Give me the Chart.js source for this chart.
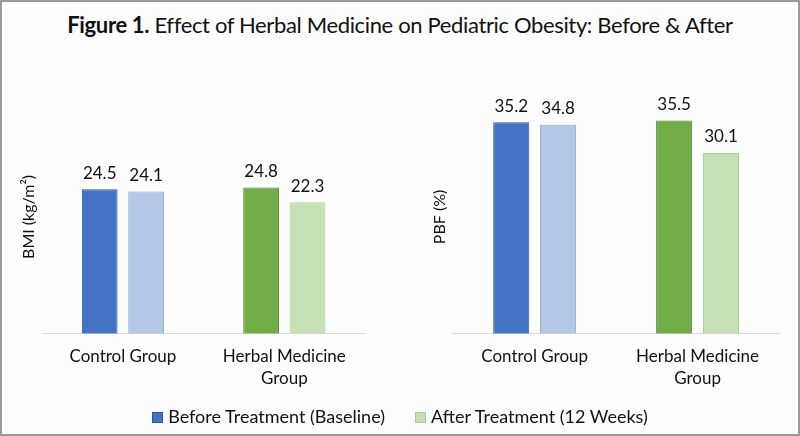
<!DOCTYPE html>
<html>
<head>
<meta charset="utf-8">
<script src="https://cdn.jsdelivr.net/npm/chart.js@4/dist/chart.umd.min.js"></script>
<style>
  html, body { margin: 0; padding: 0; background: #fff; }
  #frame { position: relative; width: 800px; height: 436px; box-sizing: border-box; border: 2px solid #9a9a9a; background: #fdfdfd; overflow: hidden; font-family: Lato, "Open Sans", sans-serif; }
  #title { position: absolute; left: 0; width: 796px; top: 9px; text-align: center; font-size: 22px; letter-spacing: -0.35px; color: #111; white-space: nowrap; }
  #title b { font-weight: 700; }
  .panel { position: absolute; top: -2px; width: 400px; height: 436px; }
  #legend { position: absolute; top: 403px; left: 0; width: 796px; text-align: center; font-size: 18px; color: #111; white-space: nowrap; }
  .item { display: inline-block; margin: 0 15px; }
  .sw { display: inline-block; width: 11px; height: 11px; margin-right: 5px; vertical-align: 0px; box-sizing: border-box; border: 1px solid; }
</style>
</head>
<body>
<div id="frame">
  <div id="title"><b>Figure 1.</b> Effect of Herbal Medicine on Pediatric Obesity: Before &amp; After</div>
  <div class="panel" style="left:-2px"><canvas id="c1"></canvas></div>
  <div class="panel" style="left:398px"><canvas id="c2"></canvas></div>
  <div id="legend"></div>
</div>
<script>
const categories = [["Control Group"], ["Herbal Medicine", "Group"]];
const seriesNames = ["Before Treatment (Baseline)", "After Treatment (12 Weeks)"];
const bmiBefore = [24.5, 24.8];
const bmiAfter = [24.1, 22.3];
const pbfBefore = [35.2, 35.5];
const pbfAfter = [34.8, 30.1];
const bmiTitle = "BMI (kg/m\u00B2)";
const pbfTitle = "PBF (%)";

const beforeFill = ["#4472c4", "#70ad47"];
const beforeBorder = ["#2f5597", "#548235"];
const afterFill = ["#b4c7e7", "#c5e0b4"];
const afterBorder = ["#8faadc", "#a9d18e"];

const FONT = "Lato, 'Open Sans', sans-serif";

const valueLabels = {
  id: "valueLabels",
  afterDatasetsDraw(chart) {
    const ctx = chart.ctx;
    ctx.save();
    ctx.font = "17px " + FONT;
    ctx.fillStyle = "#111";
    ctx.textAlign = "center";
    ctx.textBaseline = "middle";
    chart.data.datasets.forEach((ds, i) => {
      chart.getDatasetMeta(i).data.forEach((bar, j) => {
        ctx.fillText(ds.data[j].toFixed(1), bar.x, bar.y - 16);
      });
    });
    ctx.restore();
  }
};

function makeChart(id, before, after, title, yMax, pad) {
  return new Chart(document.getElementById(id), {
    type: "bar",
    data: {
      labels: categories,
      datasets: [
        { label: seriesNames[0], data: before, backgroundColor: beforeFill, borderColor: beforeBorder, borderWidth: 1, categoryPercentage: 0.575, barPercentage: 0.77 },
        { label: seriesNames[1], data: after, backgroundColor: afterFill, borderColor: afterBorder, borderWidth: 1, categoryPercentage: 0.575, barPercentage: 0.77 }
      ]
    },
    options: {
      responsive: false,
      animation: false,
      devicePixelRatio: 1,
      layout: { padding: pad },
      plugins: { legend: { display: false }, tooltip: { enabled: false } },
      scales: {
        x: {
          grid: { display: false, drawTicks: false },
          border: { display: true, color: "#d9d9d9", width: 1 },
          ticks: { color: "#111", padding: 12, font: { family: FONT, size: 17, lineHeight: 1.3 } }
        },
        y: {
          min: 0, max: yMax,
          grid: { display: false, drawTicks: false },
          border: { display: false },
          ticks: { display: false },
          title: { display: true, text: title, color: "#111", font: { family: FONT, size: 16 }, padding: { top: 4, bottom: 4 } }
        }
      }
    },
    plugins: [valueLabels]
  });
}

function sizeCanvas(id) { const c = document.getElementById(id); c.width = 400; c.height = 436; c.style.width = "400px"; c.style.height = "436px"; }
sizeCanvas("c1"); sizeCanvas("c2");

makeChart("c1", bmiBefore, bmiAfter, bmiTitle, 39.6, { left: 15, right: 35, top: 100, bottom: 34 });
makeChart("c2", pbfBefore, pbfAfter, pbfTitle, 38.9, { left: 26, right: 21, top: 100, bottom: 34 });

const lg = document.getElementById("legend");
seriesNames.forEach((n, i) => {
  const s = document.createElement("span");
  s.className = "item";
  const sw = document.createElement("span");
  sw.className = "sw";
  sw.style.background = i === 0 ? beforeFill[0] : afterFill[1];
  sw.style.borderColor = i === 0 ? beforeBorder[0] : afterBorder[1];
  s.appendChild(sw);
  s.appendChild(document.createTextNode(n));
  lg.appendChild(s);
});
</script>
</body>
</html>
